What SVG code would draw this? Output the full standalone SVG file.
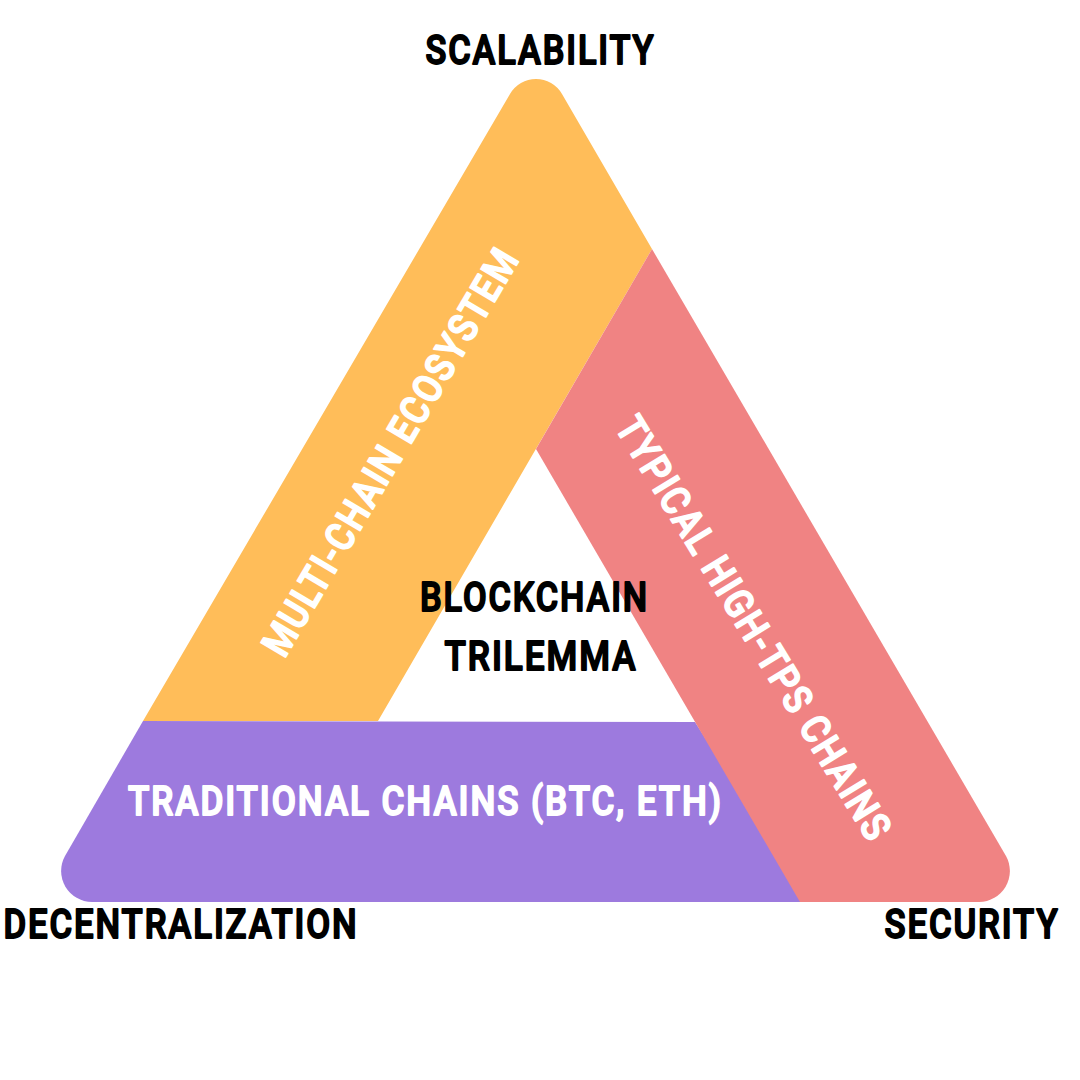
<svg xmlns="http://www.w3.org/2000/svg" width="1080" height="1080" viewBox="0 0 1080 1080">
<style>
text{font-family:"Roboto","Liberation Sans",sans-serif;font-weight:500;font-size:40px;letter-spacing:2.2px;stroke-linejoin:round;stroke-width:1.8px}
.k{fill:#000;stroke:#000}
.w{fill:#fff;stroke:#fff}
</style>
<rect width="1080" height="1080" fill="#fff"/>
<g id="band-traditional"><path d="M143 721L695 722L810 902L92 902A31 31 0 0 1 65 856Z" fill="#9d7ade"/>
<text class="w" x="425.500" y="815" text-anchor="middle" textLength="595" lengthAdjust="spacingAndGlyphs">TRADITIONAL CHAINS (BTC, ETH)</text></g>
<g id="band-multichain"><path d="M143 721L510 94A30 30 0 0 1 562 94L652 249L378 721Z" fill="#ffbd59"/>
<text class="w" transform="translate(389.500 451) rotate(-59.500)" y="15" text-anchor="middle" textLength="466" lengthAdjust="spacingAndGlyphs">MULTI-CHAIN ECOSYSTEM</text></g>
<g id="band-hightps"><path d="M536 449L652 249L1006 856A31 31 0 0 1 979 902L800 902Z" fill="#f08383"/>
<text class="w" transform="translate(755 628) rotate(58.500)" y="15" text-anchor="middle" textLength="490" lengthAdjust="spacingAndGlyphs">TYPICAL HIGH-TPS CHAINS</text></g>
<g id="center"><text class="k" x="534.500" y="611" text-anchor="middle" textLength="229" lengthAdjust="spacingAndGlyphs">BLOCKCHAIN</text>
<text class="k" x="541" y="670" text-anchor="middle" textLength="193" lengthAdjust="spacingAndGlyphs">TRILEMMA</text></g>
<g id="scalability"><text class="k" x="540.500" y="64" text-anchor="middle" textLength="230" lengthAdjust="spacingAndGlyphs">SCALABILITY</text></g>
<g id="decentralization"><text class="k" x="181" y="938" text-anchor="middle" textLength="355" lengthAdjust="spacingAndGlyphs">DECENTRALIZATION</text></g>
<g id="security"><text class="k" x="972" y="938" text-anchor="middle" textLength="175" lengthAdjust="spacingAndGlyphs">SECURITY</text></g>
<g id="connectors"/>
</svg>
